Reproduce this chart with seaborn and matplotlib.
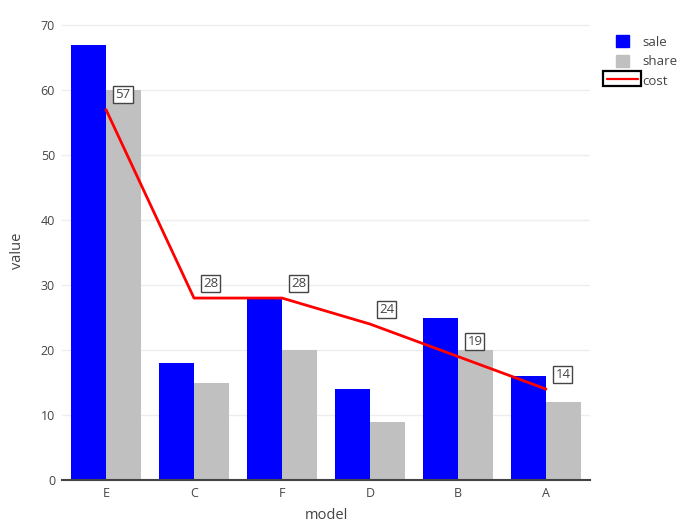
import pandas as pd
import seaborn as sns
import matplotlib.pyplot as plt
from matplotlib.patches import Rectangle
from matplotlib.lines import Line2D

# data
models = ["E", "C", "F", "D", "B", "A"]
sale = [67, 18, 28, 14, 25, 16]
share = [60, 15, 20, 9, 20, 12]
cost = [57, 28, 28, 24, 19, 14]

df = pd.DataFrame({"model": models, "sale": sale, "share": share})
long_df = df.melt(id_vars="model", var_name="metric", value_name="value")

sns.set_theme(style="white")
plt.rcParams['font.family'] = ['Open Sans', 'DejaVu Sans']
text_color = "#444444"


class BoxedLineHandler:
    # red line inside a black box, like the reference legend entry
    def legend_artist(self, legend, orig_handle, fontsize, handlebox):
        w, h = handlebox.width, handlebox.height
        box = Rectangle((-9.4, -0.15 * h), w + 18, h * 1.3, fc="white", ec="black",
                        lw=1.6, transform=handlebox.get_transform())
        line = Line2D([-6.5, w + 6.5], [h / 2, h / 2], color="red", lw=1.6,
                      transform=handlebox.get_transform())
        handlebox.add_artist(box)
        handlebox.add_artist(line)
        return box


fig = plt.figure(figsize=(6.95, 5.23), dpi=100)
ax = fig.add_axes([0.0892, 0.0822, 0.7597, 0.876])

sns.barplot(data=long_df, x="model", y="value", hue="metric", order=models,
            palette={"sale": "blue", "share": "silver"}, width=0.8,
            saturation=1, linewidth=0, ax=ax, legend=False)
sns.lineplot(x=list(range(len(models))), y=cost, color="red", linewidth=2, ax=ax)

# value boxes next to each line point
for i, c in enumerate(cost):
    ax.annotate(str(c), xy=(i, c), xytext=(12.2, 10.8), textcoords="offset points",
                ha="center", va="center", fontsize=9.5, color=text_color,
                bbox=dict(boxstyle="square,pad=0.15", fc="white", ec=text_color, lw=1))

ax.set_xlim(-0.5, len(models) - 0.5)
ax.set_ylim(0, 70.5)
ax.set_yticks(range(0, 71, 10))
ax.grid(axis="y", color="#eeeeee", linewidth=1)
ax.set_axisbelow(True)
for s in ["left", "top", "right"]:
    ax.spines[s].set_visible(False)
ax.spines["bottom"].set_color(text_color)
ax.spines["bottom"].set_linewidth(1.5)
ax.tick_params(axis="both", length=0, labelsize=9, colors=text_color, pad=5)
ax.set_xlabel("model", fontsize=10.5, color=text_color, labelpad=6)
ax.set_ylabel("value", fontsize=10.5, color=text_color, labelpad=11)

handles = [Rectangle((0, 0), 1, 1, color="blue"),
           Rectangle((0, 0), 1, 1, color="silver"),
           "cost_handle"]
fig.legend(handles, ["sale", "share", "cost"], loc="upper left",
           bbox_to_anchor=(0.869, 0.955), frameon=False, fontsize=9.5,
           labelcolor=text_color, handlelength=1.0, handleheight=1.0,
           handletextpad=1.0, labelspacing=0.45,
           handler_map={str: BoxedLineHandler()})

fig.savefig("out.png", dpi=100)
